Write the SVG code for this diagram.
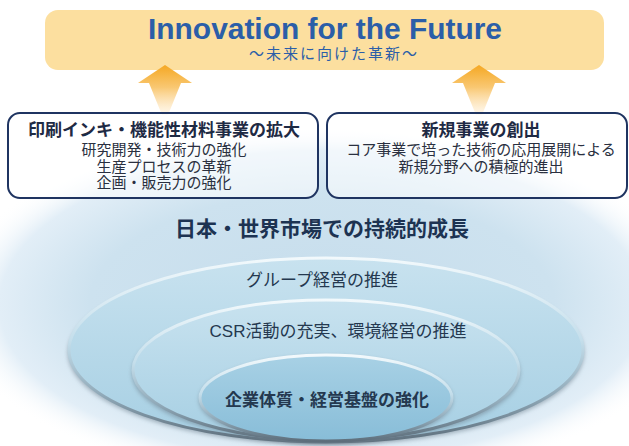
<svg xmlns="http://www.w3.org/2000/svg" width="629" height="446" viewBox="0 0 629 446">
<defs>
<style>
.cjk{font-family:"Liberation Sans","Noto Sans CJK JP","Noto Sans",sans-serif;}
.t-box{font-size:17px;font-weight:bold;fill:#1e2a44;text-anchor:middle;dominant-baseline:central;}
.t-line{font-size:15px;fill:#2a3040;text-anchor:middle;dominant-baseline:central;}
.t-ell{font-size:17px;fill:#24384f;text-anchor:middle;dominant-baseline:central;}
.box{fill:#ffffff;fill-opacity:0.55;stroke:#1f3461;stroke-width:2;}
.rim{stroke:url(#rimStroke);stroke-width:3;}
</style>
<radialGradient id="glow" cx="0.5" cy="0.5" r="0.5">
<stop offset="0" stop-color="#c6ddec"/>
<stop offset="0.62" stop-color="#cde2ef"/>
<stop offset="0.86" stop-color="#e2eef7"/>
<stop offset="1" stop-color="#ffffff" stop-opacity="0"/>
</radialGradient>
<linearGradient id="arrowGrad" x1="0" y1="0" x2="0" y2="1">
<stop offset="0" stop-color="#f5a823"/>
<stop offset="0.45" stop-color="#f9c873"/>
<stop offset="1" stop-color="#fff4e2" stop-opacity="0.6"/>
</linearGradient>
<linearGradient id="ringFill" x1="0" y1="0" x2="0" y2="1">
<stop offset="0" stop-color="#c8e2ef"/>
<stop offset="1" stop-color="#a6cfe3"/>
</linearGradient>
<linearGradient id="innerFill" x1="0" y1="0" x2="0" y2="1">
<stop offset="0" stop-color="#a8d1e5"/>
<stop offset="1" stop-color="#88bdd8"/>
</linearGradient>
<linearGradient id="rimStroke" x1="0" y1="0" x2="0" y2="1">
<stop offset="0" stop-color="#f2f9fc"/>
<stop offset="0.45" stop-color="#c4deeb"/>
<stop offset="0.75" stop-color="#8fa8b7"/>
<stop offset="1" stop-color="#5d6e7b"/>
</linearGradient>
<filter id="soft" x="-10%" y="-10%" width="120%" height="130%">
<feGaussianBlur stdDeviation="2"/>
</filter>
</defs>

<rect width="629" height="446" fill="#ffffff"/>
<ellipse cx="322" cy="305" rx="375" ry="180" fill="url(#glow)"/>

<g id="banner">
<rect x="45" y="10" width="559" height="60" rx="13" fill="#fcdf9f"/>
<text x="148" y="38.5" font-family="Liberation Sans, Arial, sans-serif" font-size="30" font-weight="bold" fill="#2b5ea8" textLength="354" lengthAdjust="spacingAndGlyphs">Innovation for the Future</text>
<text class="cjk" x="333" y="53.2" font-size="15" fill="#2b5ea8" text-anchor="middle" dominant-baseline="central" textLength="168" lengthAdjust="spacing">～未来に向けた革新～</text>
</g>

<g id="connectors">
<path d="M165,65 L192,83 L181,83 L168,115 L162,115 L149,83 L138,83 Z" fill="url(#arrowGrad)"/>
<path d="M479,65 L506,83 L495,83 L482,115 L476,115 L463,83 L452,83 Z" fill="url(#arrowGrad)"/>
</g>

<g id="box-left">
<rect class="box" x="8" y="113" width="310" height="85" rx="12"/>
<text class="cjk t-box" x="164" y="130">印刷インキ・機能性材料事業の拡大</text>
<text class="cjk t-line" x="164" y="149.5">研究開発・技術力の強化</text>
<text class="cjk t-line" x="164" y="166">生産プロセスの革新</text>
<text class="cjk t-line" x="164" y="182.5">企画・販売力の強化</text>
</g>

<g id="box-right">
<rect class="box" x="327" y="113" width="300" height="85" rx="12"/>
<text class="cjk t-box" x="481" y="130">新規事業の創出</text>
<text class="cjk t-line" x="481" y="149.5">コア事業で培った技術の応用展開による</text>
<text class="cjk t-line" x="481" y="166">新規分野への積極的進出</text>
</g>

<g id="heading">
<text class="cjk" x="322" y="228" font-size="21" font-weight="bold" fill="#1d3352" text-anchor="middle" dominant-baseline="central">日本・世界市場での持続的成長</text>
</g>

<g id="ellipse-outer">
<ellipse cx="326" cy="353" rx="258" ry="92" fill="#6c7d8a" opacity="0.55" filter="url(#soft)"/>
<ellipse class="rim" cx="326" cy="350" rx="257" ry="92" fill="url(#ringFill)"/>
<text class="cjk t-ell" x="322" y="280">グループ経営の推進</text>
</g>

<g id="ellipse-middle">
<ellipse cx="326" cy="373" rx="194" ry="70" fill="#6c7d8a" opacity="0.55" filter="url(#soft)"/>
<ellipse class="rim" cx="326" cy="370" rx="193" ry="70" fill="url(#ringFill)"/>
<text class="cjk t-ell" x="338" y="331">CSR活動の充実、環境経営の推進</text>
</g>

<g id="ellipse-inner">
<ellipse cx="326" cy="400" rx="127" ry="44" fill="#6c7d8a" opacity="0.55" filter="url(#soft)"/>
<ellipse class="rim" cx="326" cy="398" rx="126" ry="43" fill="url(#innerFill)"/>
<text class="cjk t-ell" x="327" y="400" font-weight="bold" fill="#1e3350">企業体質・経営基盤の強化</text>
</g>
</svg>
